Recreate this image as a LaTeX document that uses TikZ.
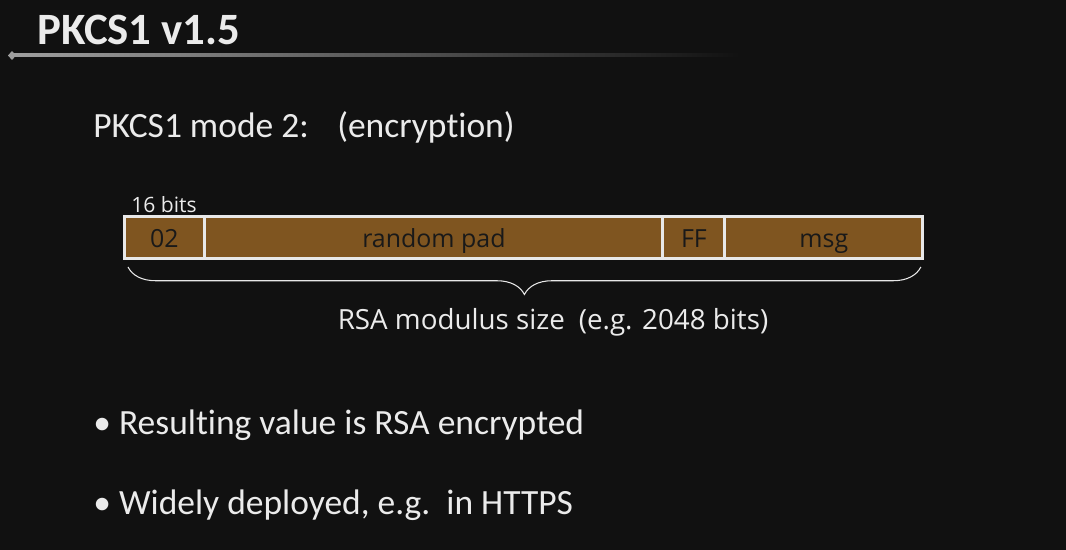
\documentclass[tikz,border=0pt]{standalone}
\usepackage{fontspec}
\setmainfont{Carlito}[RawFeature=-liga]
\newfontfamily\thinfont{Open Sans}
\usetikzlibrary{positioning,calc,decorations.pathreplacing}
\definecolor{slideBg}{HTML}{111111}
\definecolor{padBrown}{HTML}{7F5520}
\definecolor{lineGray}{HTML}{E8E8E8}

\begin{document}
\begin{tikzpicture}[%
    x=0.02cm, y=-0.02cm,
    cell/.style={
      rectangle,
      draw=lineGray,
      line width=0.06cm,
      fill=padBrown,
      text=black!90,
      minimum height=0.86cm,
      text height=11.5pt,
      text depth=0pt,
      inner sep=0pt,
      outer sep=0pt,
      font=\thinfont\fontsize{14.2}{17}\selectfont
    },
    bodyText/.style={
      text=white!92!black,
      anchor=west,
      inner sep=0pt,
      font=\fontsize{20.2}{24}\selectfont
    },
    smallText/.style={
      text=white!92!black,
      inner sep=0pt,
      font=\thinfont\fontsize{15.8}{19}\selectfont
    }
  ]

    % Big background
    \fill[slideBg] (0,0) rectangle (1066,550);
    \useasboundingbox (0,0) rectangle (1066,550);

    % title and its rule
    \shade[left color=gray!75, right color=slideBg] (12,54) rectangle (740,57);
    \fill[gray!75] (8,55.5) -- (12,51) -- (16,55.5) -- (12,60) -- cycle;
    \draw (37,30) node[bodyText, font=\fontsize{25.5}{30}\selectfont\bfseries] (title) {PKCS1 v1.5};

    \draw (93,127) node[bodyText] (mode) {PKCS1 mode 2:\hspace{0.8em}(encryption)};

    % the padded block
    \draw (124,237.5) node[cell, minimum width=1.62cm, anchor=west] (A) {02};
    \node[cell, minimum width=9.16cm, right=0pt of A] (B) {random pad};
    \node[cell, minimum width=1.24cm, right=0pt of B] (C) {FF};
    \node[cell, minimum width=3.96cm, right=0pt of C] (D) {msg};

    \node[smallText, font=\thinfont\fontsize{12}{14}\selectfont, anchor=south west] (bits) at ($(A.north west)+(7,-3)$) {16 bits};

    \draw[lineGray, line width=0.6pt, decoration={brace, mirror, amplitude=0.55cm}, decorate]
      ($(A.south west)+(4,8)$) -- ($(D.south east)+(-2,8)$);
    \node[smallText] (modulus) at (553,322) {RSA modulus size\hspace{0.5em}(e.g. 2048 bits)};

    % bullets
    \draw (93,425) node[bodyText] (first) {• Resulting value is RSA encrypted}
          (93,505) node[bodyText] (second) {• Widely deployed, e.g.\ \ in HTTPS};
\end{tikzpicture}
\end{document}
